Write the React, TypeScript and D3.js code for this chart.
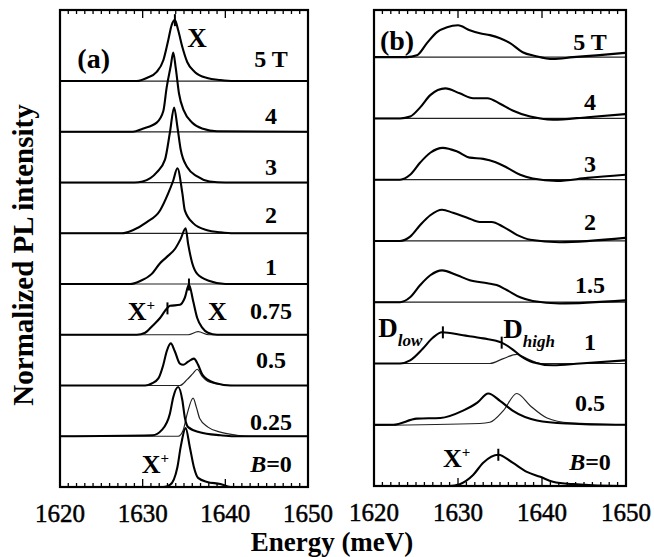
import React from "react";
import * as d3 from "d3";

type Pt = [number, number];

// ---------- Panel (a) data: energy (meV), normalized intensity ----------
const fieldLabelsA = ["5 T", "4", "3", "2", "1", "0.75", "0.5", "0.25", "B=0"];

const a5T: Pt[] = [[1620,0],[1629.3,0],[1630.5,0.06],[1631.7,0.18],[1632.5,0.41],[1633.1,0.81],[1633.5,1.10],[1633.9,1.20],[1634.3,1.0],[1634.8,0.67],[1635.4,0.37],[1636.3,0.18],[1637.8,0.06],[1639.4,0.02],[1641,0],[1650,0]];
const a4T: Pt[] = [[1620,0],[1628.8,0],[1630.0,0.06],[1631.7,0.18],[1632.5,0.41],[1632.9,0.87],[1633.4,1.30],[1633.7,1.56],[1634.0,1.26],[1634.4,0.75],[1635.0,0.41],[1636.0,0.18],[1637.3,0.06],[1639,0.01],[1650,0]];
const a3T: Pt[] = [[1620,0],[1629,0],[1630.0,0.02],[1631.7,0.20],[1632.7,0.45],[1633.3,0.99],[1633.8,1.48],[1634.2,1.10],[1634.6,0.65],[1635.4,0.30],[1636.6,0.12],[1638.1,0.02],[1640,0],[1650,0]];
const a2T: Pt[] = [[1620,0],[1627.5,0],[1628.8,0.06],[1630.5,0.22],[1632.1,0.45],[1633.1,0.79],[1633.7,1.04],[1634.2,1.28],[1634.8,0.79],[1635.1,0.45],[1636.1,0.20],[1637.8,0.06],[1639.4,0.02],[1641,0],[1650,0]];
const a1T: Pt[] = [[1620,0],[1628.5,0],[1629.7,0.06],[1631.1,0.20],[1632.1,0.41],[1632.9,0.53],[1633.9,0.69],[1634.6,0.89],[1635.2,1.10],[1635.5,0.79],[1636.0,0.41],[1636.6,0.20],[1638.1,0.06],[1640,0],[1650,0]];
const a075T: Pt[] = [[1620,0],[1629.3,0],[1630.3,0.04],[1631.2,0.18],[1632.1,0.33],[1632.7,0.47],[1633.3,0.57],[1634.5,0.59],[1635.1,0.73],[1635.6,0.99],[1636.1,0.67],[1636.6,0.33],[1637.2,0.14],[1637.9,0.04],[1639,0],[1650,0]];
const a075Thin: Pt[] = [[1620,0],[1635.5,0],[1636.7,0.06],[1638,0],[1650,0]];
const a05T: Pt[] = [[1620,0],[1630.3,0],[1631.1,0.04],[1631.9,0.14],[1632.5,0.41],[1632.9,0.67],[1633.4,0.83],[1633.9,0.67],[1634.5,0.43],[1634.9,0.41],[1635.5,0.47],[1636.2,0.53],[1636.7,0.41],[1637.2,0.22],[1637.8,0.12],[1639.0,0.04],[1640.6,0],[1650,0]];
const a05Thin: Pt[] = [[1620,0],[1634.5,0],[1635.4,0.12],[1636.1,0.24],[1636.6,0.32],[1637.2,0.18],[1637.9,0.08],[1639.4,0.02],[1641,0],[1650,0]];
const a025T: Pt[] = [[1620,0],[1631.2,0.02],[1632.3,0.12],[1633.3,0.45],[1633.7,0.77],[1634.3,0.97],[1634.8,0.71],[1635.1,0.37],[1635.5,0.18],[1636.9,0.08],[1639.4,0.02],[1641,0],[1650,0]];
const a025Thin: Pt[] = [[1620,0],[1634.3,0],[1634.9,0.12],[1635.4,0.45],[1636.1,0.75],[1636.5,0.57],[1636.9,0.35],[1637.9,0.18],[1639.4,0.08],[1641.4,0.02],[1643,0],[1650,0]];
const aB0: Pt[] = [[1620,0],[1632.5,0],[1633.3,0.04],[1634.2,0.39],[1634.6,0.79],[1635.2,1.16],[1635.7,0.79],[1636.2,0.39],[1636.7,0.18],[1637.8,0.10],[1639.4,0.06],[1640.6,0],[1650,0]];

const thickA: Pt[][] = [a5T, a4T, a3T, a2T, a1T, a075T, a05T, a025T, aB0];
const thinA: (Pt[] | null)[] = [null, null, null, null, null, a075Thin, a05Thin, a025Thin, null];

// ---------- Panel (b) data ----------
const fieldLabelsB = ["5 T", "4", "3", "2", "1.5", "1", "0.5", "B=0"];

const b5T: Pt[] = [[1620,0],[1623.9,0],[1625.1,0.03],[1626.3,0.23],[1627.5,0.41],[1628.7,0.49],[1630.0,0.52],[1631.4,0.44],[1632.6,0.39],[1633.8,0.36],[1635.0,0.31],[1636.2,0.23],[1637.7,0.08],[1639.2,0.02],[1641.3,-0.03],[1643.7,0],[1646.5,0.03],[1649.9,0.07]];
const b4T: Pt[] = [[1620,0],[1623.1,0],[1624.3,0.03],[1625.5,0.18],[1626.7,0.38],[1628.5,0.49],[1630.2,0.41],[1631.8,0.33],[1633.5,0.33],[1635.0,0.24],[1636.5,0.13],[1638.6,0.03],[1641.3,-0.02],[1645.4,0.02],[1649.9,0.07]];
const b3T: Pt[] = [[1620,0],[1623.1,0],[1624.3,0.08],[1625.5,0.28],[1626.7,0.44],[1628.2,0.52],[1629.9,0.46],[1631.4,0.36],[1633.0,0.34],[1634.4,0.29],[1635.8,0.20],[1637.4,0.08],[1638.9,0.02],[1641.8,-0.02],[1645.4,0.03],[1649.9,0.08]];
const b2T: Pt[] = [[1620,0],[1623.1,0],[1624.3,0.07],[1625.5,0.26],[1626.7,0.42],[1628.1,0.51],[1629.4,0.46],[1631.1,0.38],[1632.6,0.31],[1634.0,0.31],[1635.4,0.23],[1637.0,0.10],[1638.6,0.02],[1642.1,-0.02],[1649.9,0.05]];
const b15T: Pt[] = [[1620,0],[1623.1,0],[1624.3,0.08],[1625.5,0.28],[1626.7,0.44],[1628.1,0.52],[1629.9,0.44],[1631.4,0.36],[1633.5,0.31],[1634.6,0.28],[1635.8,0.20],[1637.4,0.08],[1638.9,0.02],[1642.1,-0.02],[1649.9,0.03]];
const b1T: Pt[] = [[1620,0],[1623.1,0],[1624.3,0.05],[1625.8,0.24],[1627.0,0.42],[1628.1,0.51],[1630.6,0.46],[1633.0,0.41],[1635.2,0.34],[1636.4,0.24],[1637.4,0.13],[1638.9,0.02],[1641.3,-0.03],[1644.5,0],[1649.9,0.05]];
const b1Thin: Pt[] = [[1620,0],[1633.8,0],[1635.4,0.08],[1637.0,0.15],[1638.2,0.08],[1639.8,0],[1650,0]];
const b05T: Pt[] = [[1620,0],[1622.3,0],[1625.1,0.10],[1627.9,0.11],[1630.6,0.23],[1632.3,0.36],[1633.6,0.51],[1635.0,0.39],[1636.5,0.23],[1639.4,0.07],[1643.0,0.02],[1648.5,0],[1650,0]];
const b05Thin: Pt[] = [[1620,-0.01],[1632.6,0.02],[1633.8,0.04],[1635.4,0.23],[1637.0,0.51],[1638.6,0.31],[1640.6,0.11],[1643.3,0.03],[1649.9,0]];
const bB0: Pt[] = [[1620,0],[1629,0],[1630.2,0.03],[1631.8,0.18],[1633.0,0.38],[1634.8,0.51],[1636.5,0.38],[1638.2,0.23],[1639.8,0.15],[1641.3,0.07],[1643.7,0.03],[1649.3,0],[1650,0]];

const thickB: Pt[][] = [b5T, b4T, b3T, b2T, b15T, b1T, b05T, bB0];
const thinB: (Pt[] | null)[] = [null, null, null, null, null, b1Thin, b05Thin, null];

// marker ticks: [row index, energy]
const markersA: [number, number][] = [[0, 1633.9], [5, 1633.0], [5, 1635.6]];
const markersB: [number, number][] = [[5, 1628.2], [5, 1635.2], [7, 1634.8]];

const tickValues = [1620, 1630, 1640, 1650];

// ---------- layout ----------
const W = 654, H = 557;
const FONT = "'Liberation Serif', 'Times New Roman', serif";
const labelLiftA = [14, 8, 8, 10, 9, 16, 18, 6, 15];
const labelLiftB = [7, 8, 8, 11, 9, 13, 14, 16];

function interp(data: Pt[], e: number): number {
  for (let i = 1; i < data.length; i++) {
    if (data[i][0] >= e) {
      const [x0, y0] = data[i - 1];
      const [x1, y1] = data[i];
      return y0 + ((y1 - y0) * (e - x0)) / (x1 - x0);
    }
  }
  return data[data.length - 1][1];
}

function FieldLabel({ text, x, y }: { text: string; x: number; y: number }) {
  if (text === "B=0") {
    return (
      <text x={x} y={y} textAnchor="middle" fontFamily={FONT} fontWeight="bold" fontSize={24}>
        <tspan fontStyle="italic">B</tspan>=0
      </text>
    );
  }
  return (
    <text x={x} y={y} textAnchor="middle" fontFamily={FONT} fontWeight="bold" fontSize={24}>
      {text}
    </text>
  );
}

function Panel({
  x, y, thick, thin, labels, lifts, labelX, markers, clipId,
}: {
  x: d3.ScaleLinear<number, number>;
  y: d3.ScaleLinear<number, number>;
  thick: Pt[][];
  thin: (Pt[] | null)[];
  labels: string[];
  lifts: number[];
  labelX: number;
  markers: [number, number][];
  clipId: string;
}) {
  const n = thick.length;
  const [x0, x1] = x.range();
  const [yb, yt] = y.range();
  const minor = d3.range(1620, 1651, 1);
  return (
    <g>
      <defs>
        <clipPath id={clipId}>
          <rect x={x0} y={yt} width={x1 - x0} height={yb - yt} />
        </clipPath>
      </defs>
      <g clipPath={`url(#${clipId})`}>
        {thick.map((d, i) => {
          const off = n - 1 - i;
          const line = d3
            .line<Pt>()
            .x((p) => x(p[0]))
            .y((p) => y(p[1] + off))
            .curve(d3.curveMonotoneX);
          const flat: Pt[] = [[1620, 0], [1650, 0]];
          const th = thin[i] || flat;
          return (
            <g key={i}>
              <path d={line(th) || ""} fill="none" stroke="#222" strokeWidth={1.2} />
              <path d={line(d) || ""} fill="none" stroke="#000" strokeWidth={2.1} strokeLinejoin="round" />
            </g>
          );
        })}
        {markers.map(([row, e], k) => {
          const off = n - 1 - row;
          const yy = y(interp(thick[row], e) + off);
          return <line key={k} x1={x(e)} x2={x(e)} y1={yy - 6} y2={yy + 6} stroke="#000" strokeWidth={2} />;
        })}
      </g>
      {minor.map((e) => {
        const len = e % 10 === 0 ? 8 : 4;
        return (
          <g key={e}>
            <line x1={x(e)} x2={x(e)} y1={yt} y2={yt + len} stroke="#000" strokeWidth={1.3} />
            <line x1={x(e)} x2={x(e)} y1={yb} y2={yb - len} stroke="#000" strokeWidth={1.3} />
          </g>
        );
      })}
      <rect x={x0} y={yt} width={x1 - x0} height={yb - yt} fill="none" stroke="#000" strokeWidth={2.2} />
      {labels.map((t, i) => (
        <FieldLabel key={i} text={t} x={labelX} y={y(n - 1 - i) - lifts[i]} />
      ))}
      {tickValues.map((v) => (
        <text key={v} x={x(v)} y={yb + 35} textAnchor="middle" fontFamily={FONT} fontSize={25}
          stroke="#000" strokeWidth={0.5}>
          {v}
        </text>
      ))}
    </g>
  );
}

export default function App() {
  const xA = d3.scaleLinear().domain([1620, 1650]).range([60, 308]);
  const xB = d3.scaleLinear().domain([1620, 1650]).range([374, 626]);
  const yA = d3.scaleLinear().domain([0, 9.4]).range([487, 10]);
  const yB = d3.scaleLinear().domain([0, 7.77]).range([486, 10]);
  const bold = { fontFamily: FONT, fontWeight: "bold" as const };
  return (
    <svg width={W} height={H} style={{ position: "absolute", left: 0, top: 0, background: "#fff" }}>
      <Panel x={xA} y={yA} thick={thickA} thin={thinA} labels={fieldLabelsA} lifts={labelLiftA} labelX={271} markers={markersA} clipId="clipA" />
      <Panel x={xB} y={yB} thick={thickB} thin={thinB} labels={fieldLabelsB} lifts={labelLiftB} labelX={590} markers={markersB} clipId="clipB" />

      {/* panel (a) annotations */}
      <text x={xA(1622.1)} y={yA(8.26)} {...bold} fontSize={28}>(a)</text>
      <text x={xA(1635.4)} y={yA(8.67)} {...bold} fontSize={27}>X</text>
      <text x={xA(1628.2)} y={yA(3.29)} {...bold} fontSize={26}>X<tspan dy={-10} fontSize={15}>+</tspan></text>
      <text x={xA(1637.9)} y={yA(3.29)} {...bold} fontSize={26}>X</text>
      <text x={xA(1629.9)} y={yA(0.28)} {...bold} fontSize={26}>X<tspan dy={-10} fontSize={15}>+</tspan></text>

      {/* panel (b) annotations */}
      <text x={xB(1620.7)} y={yB(7.11)} {...bold} fontSize={28}>(b)</text>
      <text x={xB(1628.2)} y={yB(0.31)} {...bold} fontSize={26}>X<tspan dy={-10} fontSize={15}>+</tspan></text>
      <text x={xB(1620.5)} y={yB(2.43)} {...bold} fontSize={27}>D<tspan dy={9} fontSize={17} fontStyle="italic">low</tspan></text>
      <text x={xB(1635.4)} y={yB(2.41)} {...bold} fontSize={27}>D<tspan dy={9} fontSize={17} fontStyle="italic">high</tspan></text>

      {/* axis titles */}
      <text transform="translate(33,255) rotate(-90)" textAnchor="middle" {...bold} fontSize={29}>
        Normalized PL intensity
      </text>
      <text x={332} y={551} textAnchor="middle" {...bold} fontSize={27}>
        Energy (meV)
      </text>
    </svg>
  );
}
